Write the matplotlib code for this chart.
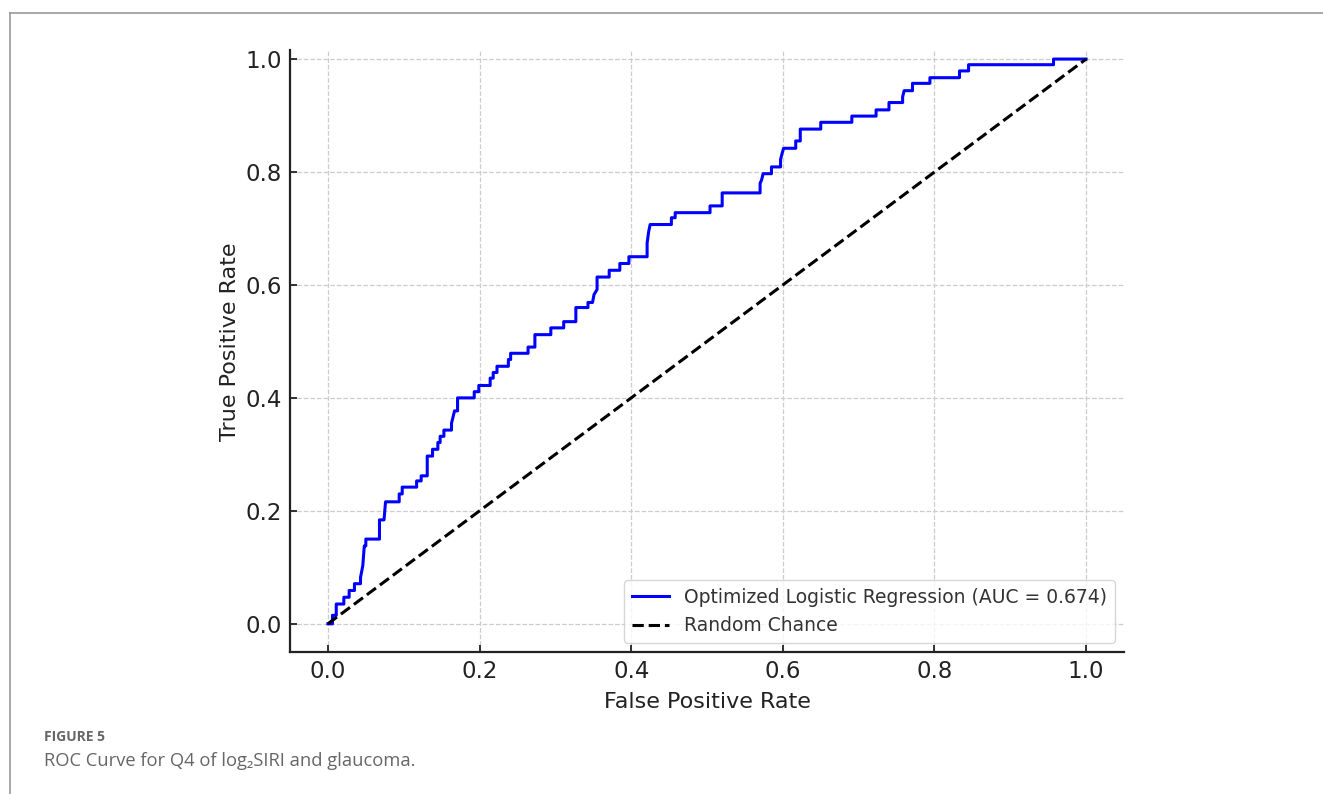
import matplotlib
matplotlib.use("Agg")
import matplotlib.pyplot as plt
from matplotlib.lines import Line2D

# ROC curve (step corners: fpr, tpr)
fpr = [0.0, 0.006, 0.006, 0.011, 0.011, 0.021, 0.021, 0.028, 0.028, 0.035,
       0.035, 0.043, 0.043, 0.046, 0.048, 0.050, 0.050, 0.068, 0.068, 0.074,
       0.076, 0.094, 0.094, 0.098, 0.098, 0.117, 0.117, 0.123, 0.123, 0.131,
       0.131, 0.138, 0.138, 0.145, 0.145, 0.148, 0.148, 0.153, 0.153, 0.163,
       0.163, 0.167, 0.171, 0.171, 0.193, 0.193, 0.199, 0.199, 0.214, 0.214,
       0.218, 0.218, 0.223, 0.223, 0.238, 0.238, 0.241, 0.241, 0.264, 0.264,
       0.273, 0.273, 0.294, 0.294, 0.311, 0.311, 0.327, 0.327, 0.343, 0.343,
       0.349, 0.351, 0.355, 0.355, 0.371, 0.371, 0.385, 0.385, 0.397, 0.397,
       0.421, 0.421, 0.423, 0.425, 0.453, 0.453, 0.458, 0.458, 0.504, 0.504,
       0.520, 0.520, 0.570, 0.570, 0.572, 0.574, 0.585, 0.585, 0.597, 0.597,
       0.599, 0.601, 0.617, 0.617, 0.623, 0.623, 0.650, 0.650, 0.691, 0.691,
       0.723, 0.723, 0.740, 0.740, 0.758, 0.758, 0.760, 0.771, 0.771, 0.794,
       0.794, 0.833, 0.833, 0.845, 0.845, 0.957, 0.957, 1.0]
tpr = [0.0, 0.0, 0.015, 0.015, 0.035, 0.035, 0.047, 0.047, 0.059, 0.059,
       0.071, 0.071, 0.082, 0.103, 0.138, 0.138, 0.150, 0.150, 0.184, 0.184,
       0.216, 0.216, 0.230, 0.230, 0.242, 0.242, 0.253, 0.253, 0.262, 0.262,
       0.297, 0.297, 0.309, 0.309, 0.321, 0.321, 0.332, 0.332, 0.343, 0.343,
       0.355, 0.377, 0.377, 0.400, 0.400, 0.411, 0.411, 0.422, 0.422, 0.435,
       0.435, 0.445, 0.445, 0.456, 0.456, 0.468, 0.468, 0.479, 0.479, 0.490,
       0.490, 0.512, 0.512, 0.524, 0.524, 0.535, 0.535, 0.560, 0.560, 0.569,
       0.569, 0.583, 0.592, 0.614, 0.614, 0.626, 0.626, 0.638, 0.638, 0.650,
       0.650, 0.674, 0.694, 0.707, 0.707, 0.719, 0.719, 0.728, 0.728, 0.740,
       0.740, 0.763, 0.763, 0.780, 0.786, 0.797, 0.797, 0.809, 0.809, 0.822,
       0.833, 0.842, 0.842, 0.855, 0.855, 0.876, 0.876, 0.888, 0.888, 0.899,
       0.899, 0.910, 0.910, 0.923, 0.923, 0.933, 0.944, 0.944, 0.957, 0.957,
       0.967, 0.967, 0.979, 0.979, 0.990, 0.990, 1.0, 1.0]
auc_value = 0.674
chance = [0, 1]
ticks = [0.0, 0.2, 0.4, 0.6, 0.8, 1.0]

fig = plt.figure(figsize=(13.23, 7.94), dpi=100)
ax = fig.add_axes([0.2192, 0.1788, 0.6304, 0.7582])

ax.plot(fpr, tpr, color="#0000ff", lw=2.2,
        label="Optimized Logistic Regression (AUC = %.3f)" % auc_value)
ax.plot(chance, chance, color="black", lw=2.2, linestyle="--", label="Random Chance")

ax.set_xlim(-0.05, 1.05)
ax.set_ylim(-0.05, 1.016)
ax.set_xticks(ticks)
ax.set_yticks(ticks)
ax.grid(True, color="#cccccc", linestyle="--", linewidth=0.9)
ax.spines["top"].set_visible(False)
ax.spines["right"].set_visible(False)
for s in ["left", "bottom"]:
    ax.spines[s].set_linewidth(1.6)
    ax.spines[s].set_color("#222222")
ax.tick_params(direction="in", length=5, width=1.3, labelsize=16.5,
               colors="#222222", pad=6)

ax.set_xlabel("False Positive Rate", fontsize=16, color="#222222", labelpad=6)
ax.set_ylabel("True Positive Rate", fontsize=16, color="#222222")
ax.yaxis.set_label_coords(-0.06, 0.516)

leg = ax.legend(loc="lower right", fontsize=13.5, frameon=True, fancybox=True)
leg.get_frame().set_edgecolor("#cccccc")
for t in leg.get_texts():
    t.set_color("#333333")

# page frame and caption
fig.add_artist(Line2D([9.5 / 1323, 9.5 / 1323], [0, 1 - 12.5 / 794],
                      color="#999999", lw=1.2))
fig.add_artist(Line2D([9.5 / 1323, 1], [1 - 12.5 / 794, 1 - 12.5 / 794],
                      color="#999999", lw=1.2))
fig.text(44 / 1323, 1 - 737 / 794, "FIGURE 5", fontsize=10, fontweight="bold",
         color="#666666", family=["Open Sans", "DejaVu Sans"], va="center")
fig.text(44 / 1323, 1 - 761 / 794, "ROC Curve for Q4 of log\u2082SIRI and glaucoma.",
         fontsize=13.2, color="#666666", family=["Open Sans", "DejaVu Sans"],
         va="center")

fig.savefig("out.png", dpi=100)
